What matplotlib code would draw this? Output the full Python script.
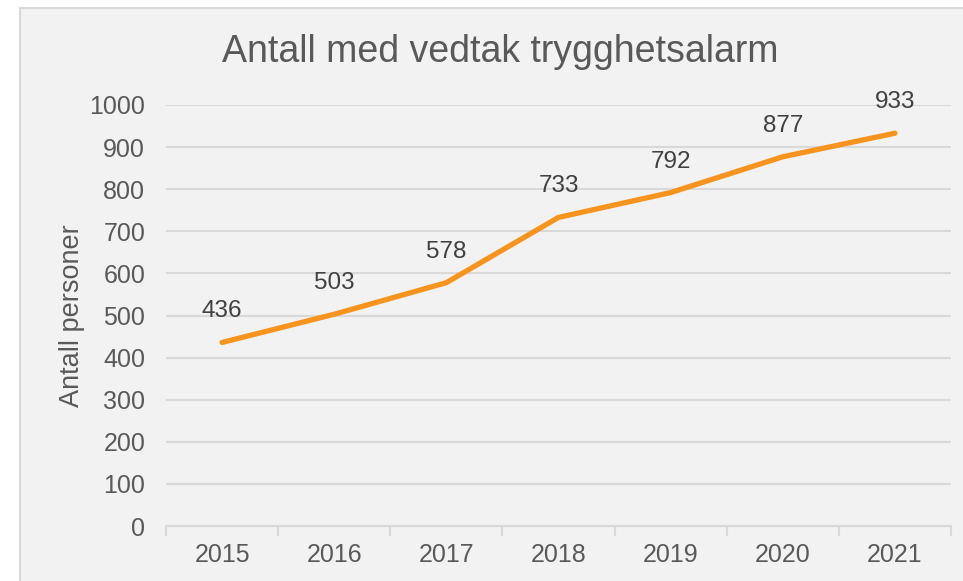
import matplotlib
matplotlib.use("Agg")
import matplotlib.pyplot as plt
from matplotlib.patches import Rectangle

years = ["2015", "2016", "2017", "2018", "2019", "2020", "2021"]
values = [436, 503, 578, 733, 792, 877, 933]
yticks = [0, 100, 200, 300, 400, 500, 600, 700, 800, 900, 1000]

plt.rcParams['font.family'] = ['Liberation Sans', 'DejaVu Sans']

W, H = 963, 581
fig = plt.figure(figsize=(W/100, H/100), dpi=100, facecolor='white')
fig.patches.append(Rectangle((20/W, -0.1), 1.2, (H-8)/H + 0.1, transform=fig.transFigure,
                             facecolor='#f2f2f2', edgecolor='#d9d9d9', linewidth=1.5, zorder=-5))

ax = fig.add_axes([166/W, 1-526/H, (951-166)/W, (526-105)/H])
ax.set_facecolor('none')
x = list(range(len(years)))
ax.plot(x, values, color='#F7941D', linewidth=3.8, solid_joinstyle='round',
        solid_capstyle='round', zorder=3)
for xi, v in zip(x, values):
    ax.annotate(str(v), (xi, v), xytext=(0, 31), textcoords='offset pixels',
                ha='center', va='center', fontsize=17.5, color='#404040')

ax.set_xlim(-0.5, len(years)-0.5)
ax.set_ylim(0, 1000)
ax.set_yticks(yticks)
ax.set_yticklabels([str(t) for t in yticks])
ax.set_xticks(x)
ax.set_xticklabels(years)
ax.set_xticks([i - 0.5 for i in range(len(years)+1)], minor=True)
ax.tick_params(axis='x', which='major', length=0, pad=12, labelsize=18, labelcolor='#595959')
ax.tick_params(axis='x', which='minor', length=7, width=1.5, color='#d9d9d9', direction='out')
ax.tick_params(axis='y', length=0, pad=15, labelsize=18, labelcolor='#595959')
ax.grid(axis='y', color='#d9d9d9', linewidth=1.5)
ax.set_axisbelow(True)
for s in ['top', 'right', 'left']:
    ax.spines[s].set_visible(False)
ax.spines['bottom'].set_color('#d9d9d9')
ax.spines['bottom'].set_linewidth(1.5)

ax.set_ylabel("Antall personer", fontsize=19.5, color='#595959', labelpad=3)
fig.text(500/W, 1-52/H, "Antall med vedtak trygghetsalarm", ha='center', va='center',
         fontsize=27, color='#595959')

fig.savefig("out.png", dpi=100, facecolor='white')
